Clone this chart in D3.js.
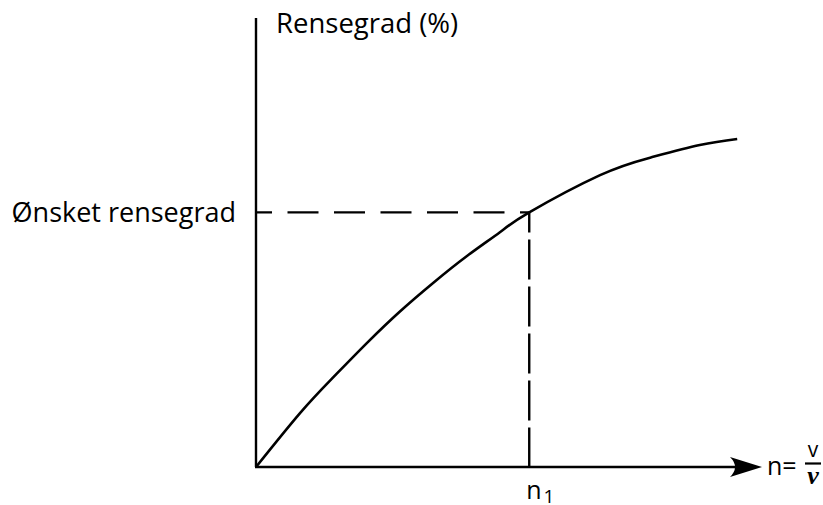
<!DOCTYPE html>
<html>
<head>
<meta charset="utf-8">
<script src="https://cdn.jsdelivr.net/npm/d3@7"></script>
<style>
  body { margin: 0; background: #fff; }
  svg { display: block; }
  text { font-family: "Open Sans", "Noto Sans", sans-serif; fill: #000; }
</style>
</head>
<body>
<svg id="viz"></svg>
<script>
var width = 823;
var height = 505;

// curve (n in % of axis length, rensegrad in %)
var nValues   = [0, 8.7, 15.2, 21.9, 28.5, 35.0, 41.7, 48.2, 54.0, 68.0, 77.9, 87.7, 95.1];
var rensegrad = [0, 12.0, 19.9, 27.6, 34.7, 41.0, 47.0, 52.3, 56.7, 65.0, 68.9, 71.7, 73.05];

var onsket = 56.7;   // ønsket rensegrad
var n1 = 54.0;

var yTitle = "Rensegrad (%)";
var onsketLabel = "Ønsket rensegrad";

var x = d3.scaleLinear().domain([0, 100]).range([256, 762]);
var y = d3.scaleLinear().domain([0, 100]).range([467, 18]);

var svg = d3.select("#viz")
  .attr("width", width)
  .attr("height", height);

var pts = nValues.map((n, i) => [n, rensegrad[i]]);

// axes
svg.append("line")
  .attr("x1", x(0)).attr("y1", y(0))
  .attr("x2", x(0)).attr("y2", y(100))
  .attr("stroke", "#000").attr("stroke-width", 2.4);

svg.append("line")
  .attr("x1", x(0) - 1).attr("y1", y(0))
  .attr("x2", x(100) - 20).attr("y2", y(0))
  .attr("stroke", "#000").attr("stroke-width", 2.4);

// arrow head
var tipX = x(100), tipY = y(0);
svg.append("path")
  .attr("d", `M${tipX},${tipY} L${tipX - 32},${tipY - 10} Q${tipX - 22},${tipY} ${tipX - 32},${tipY + 10} Z`)
  .attr("fill", "#000");

// dashed guides
svg.append("line")
  .attr("x1", x(0)).attr("y1", y(onsket))
  .attr("x2", x(n1)).attr("y2", y(onsket))
  .attr("stroke", "#000").attr("stroke-width", 2.4)
  .attr("stroke-dasharray", "31,15.5")
  .attr("stroke-dashoffset", 15);

svg.append("line")
  .attr("x1", x(n1)).attr("y1", y(onsket))
  .attr("x2", x(n1)).attr("y2", y(0))
  .attr("stroke", "#000").attr("stroke-width", 2.4)
  .attr("stroke-dasharray", "40,7")
  .attr("stroke-dashoffset", 20);

// curve
svg.append("path")
  .datum(pts)
  .attr("fill", "none")
  .attr("stroke", "#000")
  .attr("stroke-width", 2.6)
  .attr("d", d3.line()
    .x(d => x(d[0]))
    .y(d => y(d[1]))
    .curve(d3.curveNatural));

// labels
svg.append("text")
  .attr("x", x(0) + 20).attr("y", 33)
  .style("font-size", "27.5px")
  .text(yTitle);

svg.append("text")
  .attr("x", x(0) - 20).attr("y", y(onsket) + 10)
  .attr("text-anchor", "end")
  .style("font-size", "27px")
  .text(onsketLabel);

var n1Label = svg.append("text")
  .attr("x", x(n1) - 3).attr("y", 499)
  .style("font-size", "25px");
n1Label.append("tspan").text("n");
n1Label.append("tspan").attr("dx", 2).attr("dy", 4).style("font-size", "19px").text("1");

svg.append("text")
  .attr("x", tipX + 5).attr("y", 475)
  .style("font-size", "25px")
  .text("n=");

svg.append("text")
  .attr("x", 813).attr("y", 457)
  .attr("text-anchor", "middle")
  .style("font-size", "21px")
  .text("v");

svg.append("line")
  .attr("x1", 805).attr("x2", 821)
  .attr("y1", 463.5).attr("y2", 463.5)
  .attr("stroke", "#000").attr("stroke-width", 2.2);

svg.append("text")
  .attr("x", 813).attr("y", 484)
  .attr("text-anchor", "middle")
  .style("font-family", "'Liberation Serif', serif")
  .style("font-style", "italic")
  .style("font-weight", "bold")
  .style("font-size", "26px")
  .text("ν");
</script>
</body>
</html>
